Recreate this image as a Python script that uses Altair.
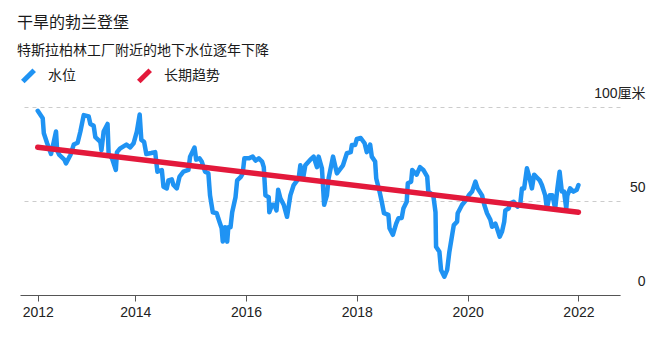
import altair as alt
import pandas as pd

# Groundwater level near the Tesla factory (cm)
years = [2012.24, 2012.33, 2012.35, 2012.41, 2012.48, 2012.53, 2012.57, 2012.59, 2012.63, 2012.72,
         2012.75, 2012.83, 2012.89, 2012.96, 2013.01, 2013.07, 2013.16, 2013.19, 2013.25, 2013.28,
         2013.37, 2013.39, 2013.43, 2013.50, 2013.52, 2013.58, 2013.65, 2013.67, 2013.73, 2013.84,
         2013.91, 2013.97, 2014.03, 2014.08, 2014.11, 2014.16, 2014.20, 2014.29, 2014.36, 2014.40,
         2014.48, 2014.51, 2014.57, 2014.60, 2014.66, 2014.69, 2014.75, 2014.80, 2014.87, 2014.96,
         2014.99, 2015.07, 2015.10, 2015.16, 2015.20, 2015.26, 2015.32, 2015.35, 2015.40, 2015.47,
         2015.52, 2015.56, 2015.58, 2015.62, 2015.66, 2015.68, 2015.72, 2015.75, 2015.81, 2015.84,
         2015.91, 2015.94, 2015.97, 2016.05, 2016.12, 2016.17, 2016.23, 2016.29, 2016.32, 2016.35,
         2016.41, 2016.42, 2016.47, 2016.51, 2016.55, 2016.58, 2016.62, 2016.68, 2016.74, 2016.80,
         2016.86, 2016.95, 2016.98, 2017.03, 2017.07, 2017.16, 2017.22, 2017.28, 2017.31, 2017.37,
         2017.41, 2017.46, 2017.49, 2017.57, 2017.64, 2017.75, 2017.82, 2017.89, 2017.91, 2017.97,
         2018.00, 2018.07, 2018.14, 2018.18, 2018.24, 2018.27, 2018.33, 2018.35, 2018.41, 2018.45,
         2018.49, 2018.57, 2018.59, 2018.65, 2018.71, 2018.75, 2018.81, 2018.84, 2018.90, 2018.92,
         2018.98, 2019.00, 2019.08, 2019.14, 2019.20, 2019.27, 2019.29, 2019.38, 2019.42, 2019.43,
         2019.49, 2019.52, 2019.58, 2019.63, 2019.67, 2019.73, 2019.75, 2019.81, 2019.82, 2019.90,
         2019.97, 2020.02, 2020.08, 2020.14, 2020.18, 2020.26, 2020.30, 2020.35, 2020.41, 2020.44,
         2020.50, 2020.53, 2020.58, 2020.62, 2020.66, 2020.68, 2020.74, 2020.77, 2020.83, 2020.90,
         2020.95, 2020.98, 2021.02, 2021.07, 2021.12, 2021.16, 2021.20, 2021.25, 2021.30, 2021.34,
         2021.40, 2021.43, 2021.48, 2021.53, 2021.58, 2021.62, 2021.66, 2021.70, 2021.74, 2021.78,
         2021.80, 2021.85, 2021.91, 2021.97, 2022.00]
levels = [98, 94, 86, 80.7, 75, 81.5, 87, 77, 74.5, 72,
          70, 74.5, 80, 81, 87, 95.7, 95, 91, 90, 84,
          81.5, 77, 87, 91, 75, 72.7, 66.5, 76, 78, 80,
          78.5, 80.7, 87, 96, 82.5, 81.5, 75, 75.5, 76, 65.6,
          66.5, 57.6, 56.7, 61, 61.5, 58.5, 56.7, 63, 65.6, 66.5,
          73.6, 78.4, 72, 72.7, 71, 65.6, 64.7, 53, 44, 43.5,
          39, 35.5, 28.4, 36, 28.4, 36, 36, 44, 52, 61,
          63, 64.7, 72.7, 72.7, 73.6, 71.5, 72.7, 71, 68, 53,
          52, 44, 48, 48, 45, 56, 51.4, 48, 41.6, 53,
          58.5, 62, 69, 62, 69, 72, 73.6, 68, 73.6, 67.4,
          48, 53, 62, 73.6, 64.7, 69, 75.4, 76, 79.8, 79.8,
          83, 83.5, 80.7, 76, 80, 73.6, 71, 62, 55, 49.6,
          43.5, 42.6, 35.5, 32, 38, 40.8, 41, 46, 49.6, 59.4,
          60.3, 66.5, 64, 68, 66.5, 63, 55, 53, 44, 25.7,
          23, 13.3, 9.7, 13.3, 23, 33.7, 37.2, 39, 43.5, 48,
          50.5, 53, 55, 60.3, 56.7, 53, 48, 43.5, 40, 36.3,
          38, 35.5, 31, 33.7, 39, 45, 46, 48.8, 49.6, 47,
          48.5, 56.7, 56.7, 67.4, 62, 56.7, 64, 62.5, 61, 58.5,
          53, 46, 53, 53, 46, 56.7, 65.6, 55, 55, 46,
          53, 56.7, 55, 56, 58.5]

trend_years = [2012.24, 2022.00]
trend_values = [78.6, 44.0]

series_names = ["水位", "长期趋势"]
series_colors = ["#1F93F3", "#E3193B"]

x_ticks = [2012.24, 2014, 2016, 2018, 2020, 2022]
y_ticks = [0, 50, 100]

water = pd.DataFrame({"year": years, "value": levels, "series": series_names[0]})
trend = pd.DataFrame({"year": trend_years, "value": trend_values, "series": series_names[1]})

num_font = "Liberation Sans, Noto Sans CJK SC"
cjk_font = "Noto Sans CJK SC"

x_enc = alt.X(
    "year:Q",
    scale=alt.Scale(domain=[2011.92, 2022.75], nice=False, zero=False),
    axis=alt.Axis(
        values=x_ticks,
        labelExpr="datum.value < 2013 ? '2012' : format(datum.value, 'd')",
        title=None, grid=False, domainColor="#555555", tickColor="#555555",
        tickSize=6, labelFontSize=14, labelColor="#222222", labelFont=num_font,
        labelPadding=4, domainWidth=1.2,
    ),
)
y_enc = alt.Y(
    "value:Q",
    scale=alt.Scale(domain=[0, 100], nice=False),
    axis=alt.Axis(
        orient="right", values=y_ticks,
        labelExpr="datum.value == 100 ? '100厘米' : datum.label",
        title=None, domain=False, ticks=False, grid=True,
        gridDash=[4, 4], gridColor="#cccccc", gridWidth=1,
        labelAlign="right", labelBaseline="bottom", labelPadding=25,
        labelOffset=-7, labelFontSize=14, labelColor="#222222", labelFont=num_font,
    ),
)
color_enc = alt.Color(
    "series:N",
    scale=alt.Scale(domain=series_names, range=series_colors),
    legend=alt.Legend(
        title=None, orient="none", legendX=0, legendY=-40, direction="horizontal",
        symbolType="M-1,1L1,-1", symbolStrokeWidth=5, symbolSize=130,
        labelFontSize=14, labelFont=cjk_font, labelColor="#222222",
        labelOffset=11, columnPadding=52,
    ),
)

base_water = alt.Chart(water).mark_line(strokeWidth=4.5, strokeJoin="round", strokeCap="round").encode(
    x=x_enc, y=y_enc, color=color_enc
)
base_trend = alt.Chart(trend).mark_line(strokeWidth=5.5, strokeCap="round").encode(
    x=x_enc, y=y_enc, color=color_enc
)

chart = alt.layer(base_water, base_trend).properties(
    width=600, height=188,
    autosize="none",
    padding={"left": 20, "top": 107, "right": 31, "bottom": 44},
    title=alt.TitleParams(
        text="干旱的勃兰登堡", subtitle="特斯拉柏林工厂附近的地下水位逐年下降",
        anchor="start", frame="group", font=cjk_font, subtitleFont=cjk_font,
        fontSize=16, subtitleFontSize=14, fontWeight="normal",
        color="#1a1a1a", subtitleColor="#1a1a1a", offset=9, dx=-3,
        subtitlePadding=13,
    ),
).configure_view(stroke=None)

chart.save("out.html", embed_options={"renderer": "svg", "actions": False})
